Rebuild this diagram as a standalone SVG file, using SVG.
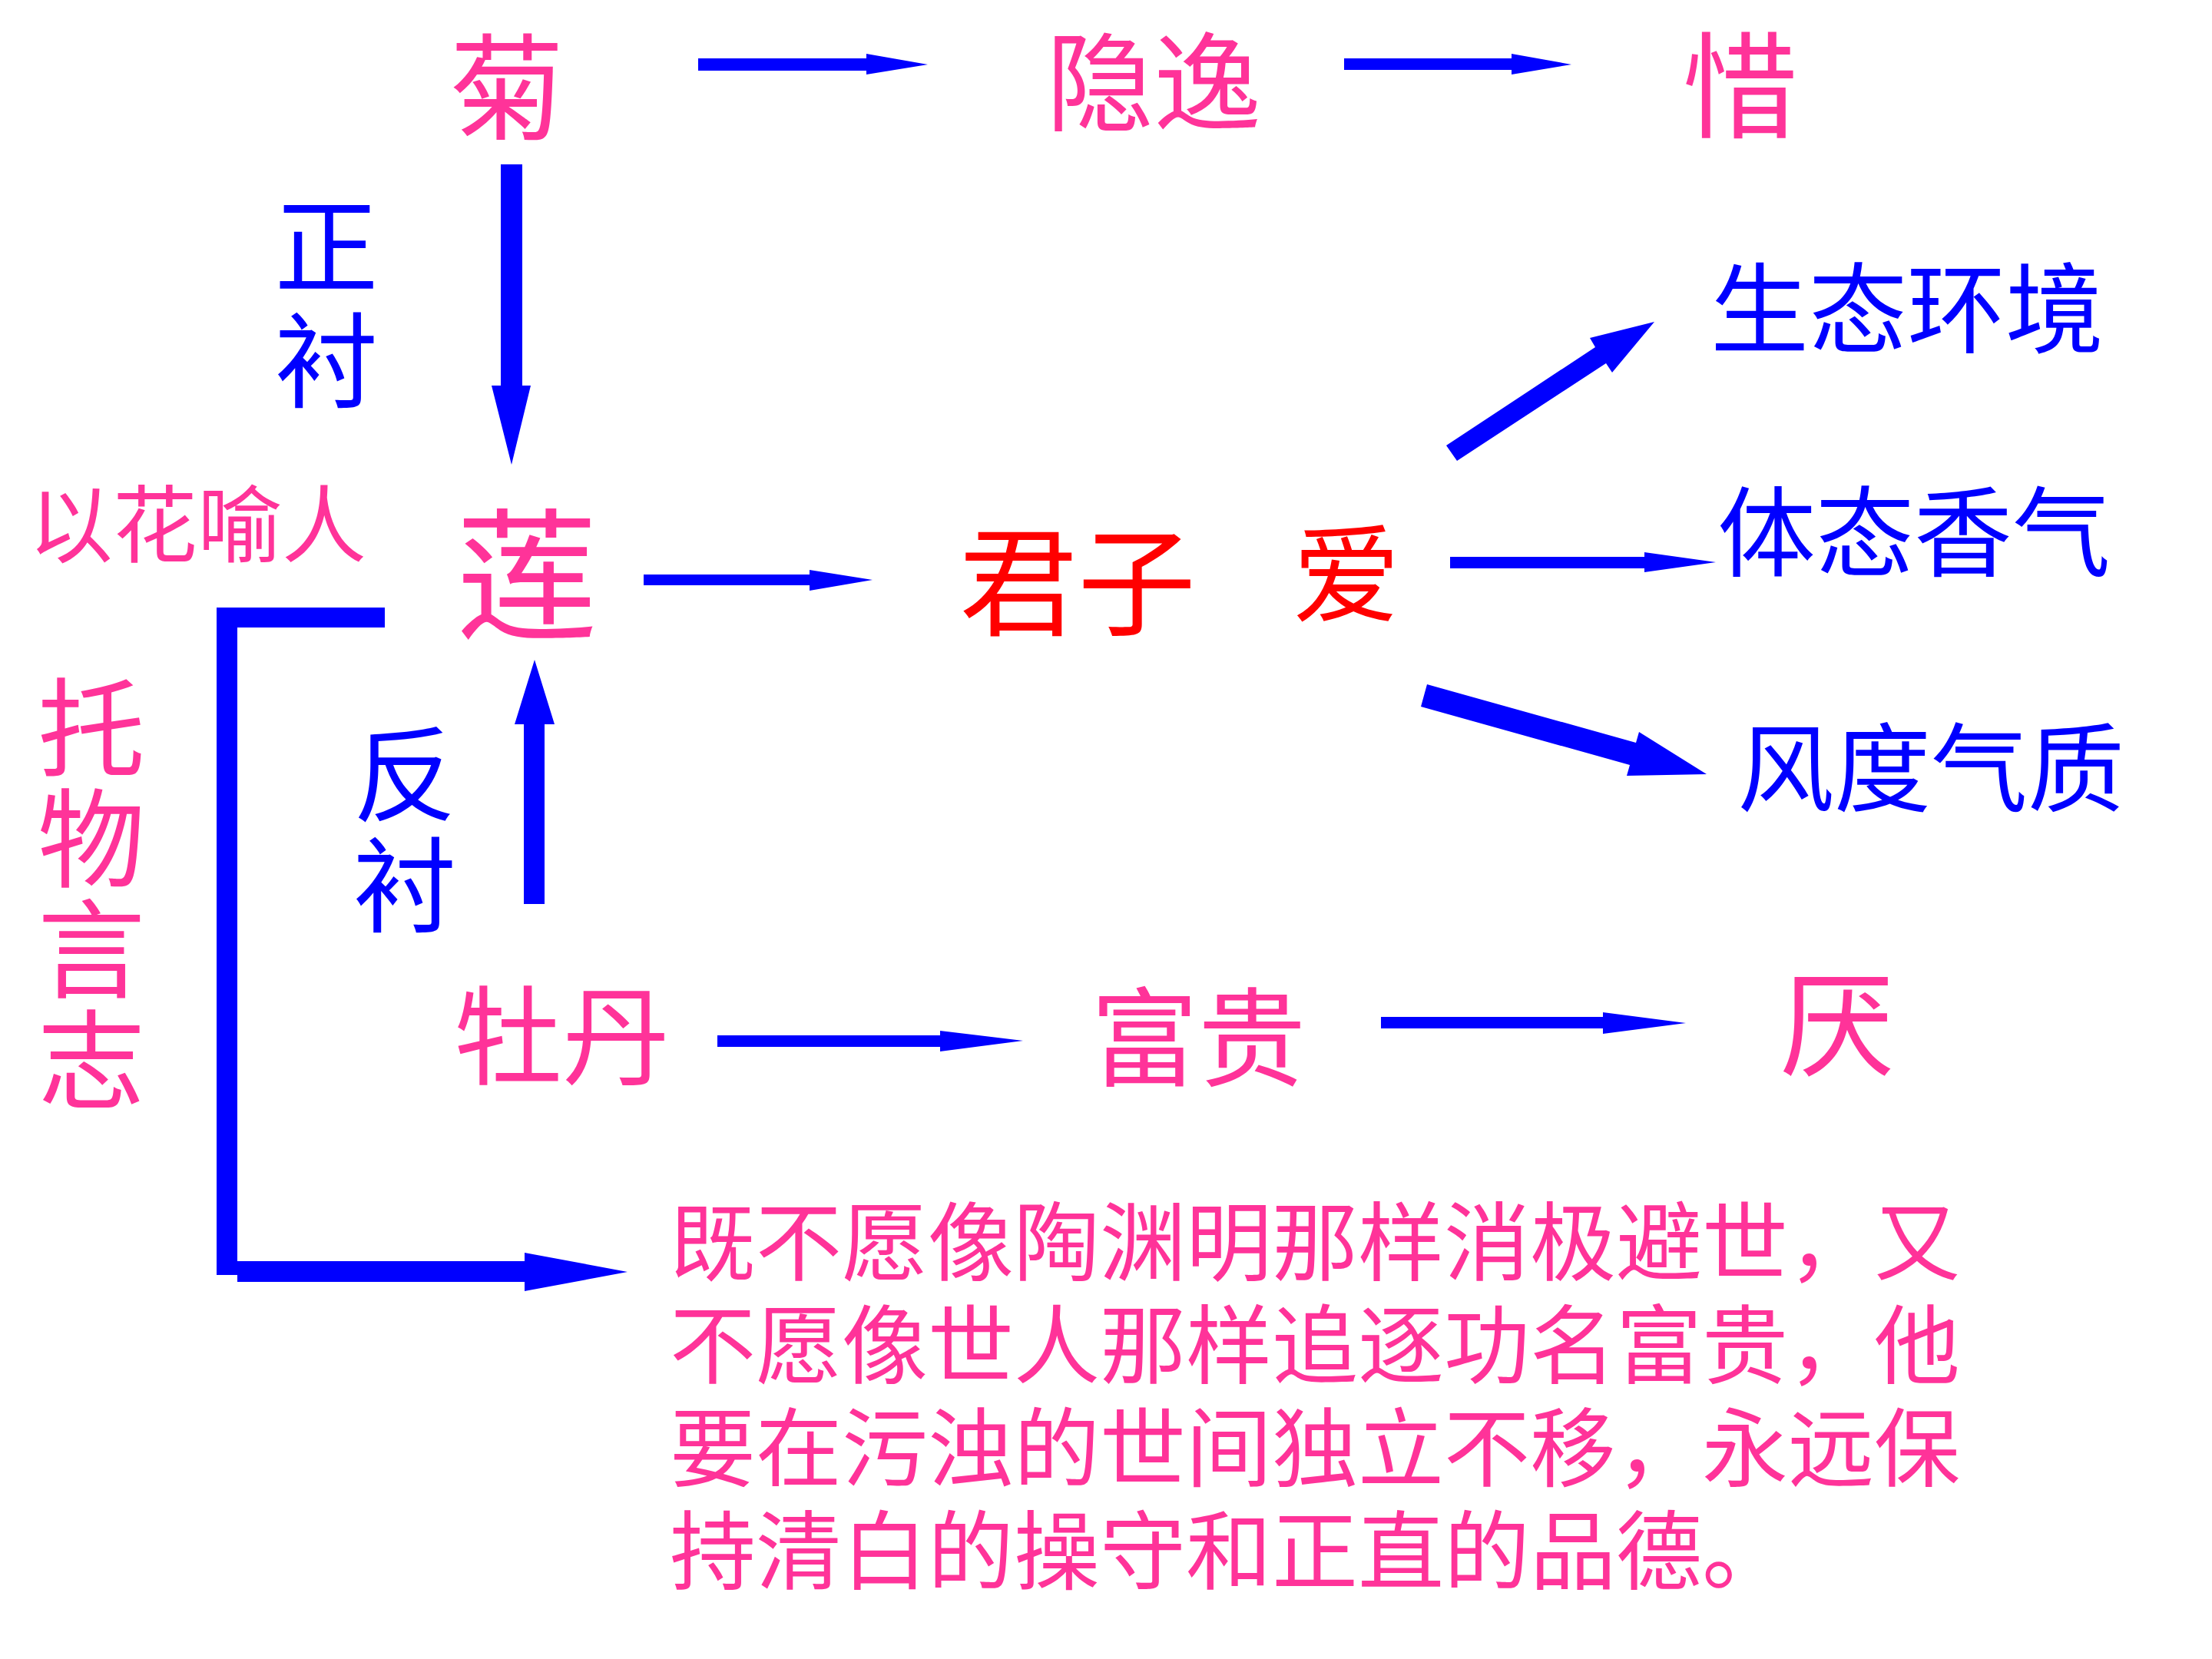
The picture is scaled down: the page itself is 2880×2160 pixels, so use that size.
<svg xmlns="http://www.w3.org/2000/svg" width="2880" height="2160" viewBox="0 0 2880 2160">
<style>
text{font-family:"Noto Sans CJK SC","Noto Sans CJK TC",sans-serif;text-anchor:middle;dominant-baseline:central}
.pk{fill:#FF3399}.bl{fill:#0000FF}.rd{fill:#FF0000}
.arr{fill:#0000FF}
.para{text-anchor:start;font-size:112px}
.vert{writing-mode:vertical-rl;text-anchor:start}
</style>
<rect width="2880" height="2160" fill="#FFFFFF"/>
<g id="connectors">
<polygon class="arr" points="909,76 1128,76 1128,70 1208,84 1128,97 1128,92 909,92"/>
<polygon class="arr" points="1750,76 1968,76 1968,70 2046,84 1968,97 1968,91 1750,91"/>
<polygon class="arr" points="652,214 680,214 680,502 691,502 666,605 640,502 652,502"/>
<polygon class="arr" points="838,748 1054,748 1054,742 1136,755 1054,769 1054,762 838,762"/>
<polygon class="arr" points="1888,725 2141,725 2141,719 2234,732 2141,745 2141,740 1888,740"/>
<polygon class="arr" points="1883,580 2077,452 2070,440 2154,419 2099,485 2091,473 1897,600"/>
<polygon class="arr" points="1858,891 2130,967 2134,953 2222,1008 2118,1010 2122,996 1850,920"/>
<polygon class="arr" points="682,1177 709,1177 709,943 722,943 696,859 670,943 682,943"/>
<polygon class="arr" points="934,1348 1224,1348 1224,1342 1332,1355 1224,1369 1224,1363 934,1363"/>
<polygon class="arr" points="1798,1324 2087,1324 2087,1318 2195,1332 2087,1346 2087,1339 1798,1339"/>
<polygon class="arr" points="282,791 501,791 501,817 309,817 309,1660 282,1660"/>
<polygon class="arr" points="309,1642 683,1642 683,1631 817,1656 683,1681 683,1669 309,1669"/>
</g>
<g id="node-ju"><text class="pk" x="660" y="104" font-size="150">菊</text></g>
<g id="node-yinyi"><text class="pk" x="1502" y="98" font-size="140">隐逸</text></g>
<g id="node-xi"><text class="pk" x="2266" y="102" font-size="150">惜</text></g>
<g id="label-zhengchen"><text class="bl vert" x="425" y="252" font-size="135" letter-spacing="14">正衬</text></g>
<g id="label-yihua"><text class="pk" x="257" y="676" font-size="110">以花喻人</text></g>
<g id="node-lian"><text class="pk" x="686" y="737" font-size="185">莲</text></g>
<g id="node-junzi"><text class="rd" x="1403" y="748" font-size="154">君子</text></g>
<g id="node-ai"><text class="rd" x="1753" y="738" font-size="140">爱</text></g>
<g id="node-shengtai"><text class="bl" x="2483" y="394" font-size="128">生态环境</text></g>
<g id="node-titai"><text class="bl" x="2492" y="685" font-size="128">体态香气</text></g>
<g id="node-fengdu"><text class="bl" x="2514" y="992" font-size="126">风度气质</text></g>
<g id="label-tuowu"><text class="pk vert" x="119" y="877" font-size="140" letter-spacing="4">托物言志</text></g>
<g id="label-fanchen"><text class="bl vert" x="527" y="940" font-size="135" letter-spacing="9">反衬</text></g>
<g id="node-mudan"><text class="pk" x="732" y="1340" font-size="140">牡丹</text></g>
<g id="node-fugui"><text class="pk" x="1560" y="1342" font-size="140">富贵</text></g>
<g id="node-yan"><text class="pk" x="2392" y="1323" font-size="150">厌</text></g>
<g id="node-summary">
<text class="pk para" x="872" y="1610"><tspan x="872" y="1610">既不愿像陶渊明那样消极避世，又</tspan><tspan x="872" y="1744">不愿像世人那样追逐功名富贵，他</tspan><tspan x="872" y="1878">要在污浊的世间独立不移，永远保</tspan><tspan x="872" y="2012">持清白的操守和正直的品德。</tspan></text>
</g>
</svg>
